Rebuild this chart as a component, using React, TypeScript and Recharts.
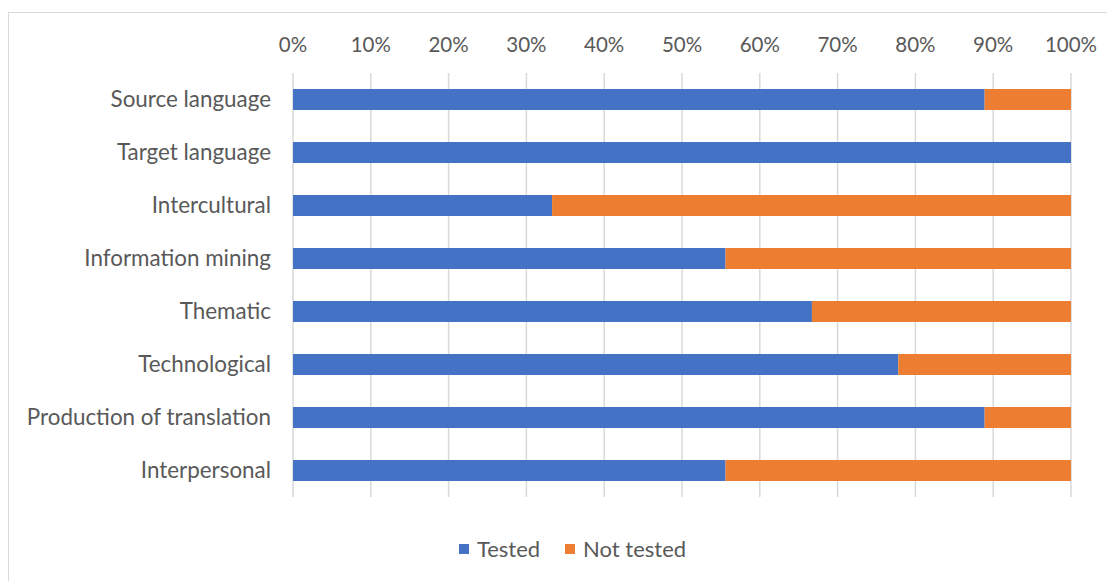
import React from "react";
import { BarChart, Bar, XAxis, YAxis, CartesianGrid, Legend } from "recharts";

const categories = [
  "Source language",
  "Target language",
  "Intercultural",
  "Information mining",
  "Thematic",
  "Technological",
  "Production of translation",
  "Interpersonal",
];
const tested = [88.9, 100, 33.3, 55.6, 66.7, 77.8, 88.9, 55.6];
const notTested = [11.1, 0, 66.7, 44.4, 33.3, 22.2, 11.1, 44.4];
const percentTicks = [0, 10, 20, 30, 40, 50, 60, 70, 80, 90, 100];

const data = categories.map((name, i) => ({
  name,
  tested: tested[i],
  notTested: notTested[i],
}));

const FONT = "Lato, 'Open Sans', sans-serif";
const TEXT = "#595959";
const BLUE = "#4472C4";
const ORANGE = "#ED7D31";

const TopTick = (props: any) => {
  const { x, payload } = props;
  return (
    <text x={x} y={39} textAnchor="middle" fontSize={20.5} fill={TEXT} fontFamily={FONT}>
      {`${payload.value}%`}
    </text>
  );
};

const CategoryTick = (props: any) => {
  const { x, y, payload } = props;
  return (
    <text x={x} y={y} dy={7.5} textAnchor="end" fontSize={22.4} fill={TEXT} fontFamily={FONT}>
      {payload.value}
    </text>
  );
};

const LegendContent = () => (
  <div
    style={{
      display: "flex",
      justifyContent: "center",
      alignItems: "center",
      fontFamily: FONT,
      fontSize: 22,
      color: TEXT,
      gap: 25,
      paddingLeft: 22,
    }}
  >
    <span style={{ display: "flex", alignItems: "center" }}>
      <span style={{ width: 10, height: 10, background: BLUE, display: "inline-block", marginRight: 8 }} />
      Tested
    </span>
    <span style={{ display: "flex", alignItems: "center" }}>
      <span style={{ width: 10, height: 10, background: ORANGE, display: "inline-block", marginRight: 8 }} />
      Not tested
    </span>
  </div>
);

export default function App() {
  return (
    <div
      style={{
        marginTop: 4,
        width: 1105,
        height: 575,
        border: "1px solid #d9d9d9",
        background: "#fff",
        position: "relative",
      }}
    >
      <BarChart
        width={1105}
        height={575}
        data={data}
        layout="vertical"
        margin={{ top: 0, right: 43, bottom: 64, left: 0 }}
        barCategoryGap="30%"
      >
        <CartesianGrid horizontal={false} stroke="#d9d9d9" strokeWidth={1.5} />
        <XAxis
          type="number"
          orientation="top"
          domain={[0, 100]}
          ticks={percentTicks}
          height={60}
          axisLine={false}
          tickLine={false}
          tick={<TopTick />}
          interval={0}
        />
        <YAxis
          type="category"
          dataKey="name"
          width={284}
          axisLine={false}
          tickLine={false}
          tickMargin={16}
          tick={<CategoryTick />}
          interval={0}
        />
        <Legend
          content={<LegendContent />}
          height={0}
          wrapperStyle={{ position: "absolute", top: 522, left: 0, width: 1105 }}
        />
        <Bar dataKey="tested" name="Tested" stackId="a" fill={BLUE} isAnimationActive={false} />
        <Bar dataKey="notTested" name="Not tested" stackId="a" fill={ORANGE} isAnimationActive={false} />
      </BarChart>
    </div>
  );
}
